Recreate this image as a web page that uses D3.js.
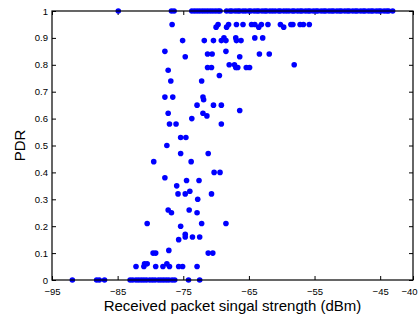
<!DOCTYPE html>
<html>
<head>
<meta charset="utf-8">
<script src="https://cdn.jsdelivr.net/npm/d3@7"></script>
<style>
  body { margin: 0; background: #fff; }
  svg { display: block; font-family: "Liberation Sans", Arial, sans-serif; }
</style>
</head>
<body>
<svg id="chart" width="419" height="322"></svg>
<script>
// tick values
const xTicks = [-95, -85, -75, -65, -55, -45, -40];
const yTicks = [0, 0.1, 0.2, 0.3, 0.4, 0.5, 0.6, 0.7, 0.8, 0.9, 1];

// links that delivered everything (PDR = 1)
const fullRssi = [-84.9, -76.8, -76.4, -73.7, -73.3, -72.9, -72.5, -72.1, -71.7, -71.3, -70.9, -70.5,
    -70.1, -69.7, -69.4, -68.4, -67.9, -67.6, -67.1, -66.7, -66.4, -65.9, -65.5, -65.0, -64.7, -64.2,
    -63.8, -63.5, -63.0, -62.6, -62.3, -61.8, -61.4, -61.0, -60.5, -60.2, -59.7, -59.3, -58.9, -58.4,
    -58.1, -57.6, -57.2, -56.9, -56.4, -56.0, -55.7, -55.2, -54.8, -54.5, -54.0, -53.6, -53.3, -52.8,
    -52.4, -52.1, -51.6, -51.2, -50.9, -50.4, -50.0, -49.7, -49.2, -48.8, -48.5, -48.0, -47.6, -47.3,
    -46.8, -46.4, -46.1, -45.6, -45.2, -44.9, -44.4, -44.0, -43.7, -43.1];

// links that delivered nothing (PDR = 0)
const zeroRssi = [-91.9, -88.2, -87.8, -87.0, -83.1, -82.7, -82.2, -81.8, -81.4, -81.0, -80.6, -80.1,
    -79.7, -79.3, -78.8, -78.4, -78.0, -77.6, -77.2, -76.7, -76.3, -74.2, -72.5];

// everything in between
const midRssi = [
    -76.7, -69.7, -68.1, -66.9, -65.9, -64.6, -64.1, -63.1, -62.1, -60.2, -58.6, -58.3, -57.2, -56.7, -55.8,
    -70.0, -68.4, -63.5, -59.7,
    -68.8, -67.0, -64.1, -62.9,
    -75.1, -71.8, -70.4, -69.2, -68.5, -66.9, -66.2,
    -77.8, -68.5,
    -71.3, -70.6, -63.4, -61.9,
    -74.7, -66.4,
    -68.0, -67.2, -58.1,
    -71.3, -70.7, -67.0, -66.7, -65.4, -64.9,
    -77.3, -69.5,
    -76.9, -72.2,
    -77.8, -76.6, -72.0, -71.9,
    -72.9, -70.4, -69.2, -66.4,
    -77.3, -72.0, -71.4, -73.7,
    -77.1, -76.1, -69.2,
    -75.4, -74.6, -77.5,
    -75.4, -71.2, -79.5, -73.8,
    -70.3, -69.4, -77.8,
    -74.5, -72.6, -76.0, -74.0,
    -75.8, -74.7, -70.7, -72.8,
    -77.3, -74.1, -76.8, -72.9,
    -80.5, -72.2, -68.5, -75.4,
    -74.7, -74.7, -73.6, -72.5, -75.7, -77.2,
    -79.6, -79.2, -71.2, -70.5,
    -80.9, -80.5, -77.5,
    -82.2, -81.0, -79.2, -78.1, -77.1, -75.7, -75.1, -72.9
];
const midPdr = [
    0.95, 0.95, 0.95, 0.95, 0.95, 0.95, 0.95, 0.95, 0.95, 0.95, 0.95, 0.95, 0.95, 0.95, 0.95,
    0.94, 0.94, 0.94, 0.94,
    0.90, 0.90, 0.90, 0.90,
    0.89, 0.89, 0.89, 0.89, 0.89, 0.89, 0.89,
    0.85, 0.85,
    0.84, 0.84, 0.84, 0.84,
    0.83, 0.83,
    0.80, 0.80, 0.80,
    0.79, 0.79, 0.79, 0.79, 0.79, 0.79,
    0.78, 0.76,
    0.74, 0.74,
    0.68, 0.68, 0.68, 0.67,
    0.65, 0.65, 0.65, 0.63,
    0.62, 0.62, 0.61, 0.60,
    0.58, 0.58, 0.58,
    0.53, 0.53, 0.50,
    0.47, 0.47, 0.44, 0.44,
    0.40, 0.40, 0.38,
    0.37, 0.37, 0.35, 0.33,
    0.32, 0.32, 0.32, 0.30,
    0.26, 0.26, 0.25, 0.25,
    0.21, 0.21, 0.21, 0.20,
    0.17, 0.16, 0.16, 0.16, 0.15, 0.11,
    0.10, 0.10, 0.10, 0.10,
    0.06, 0.06, 0.06,
    0.05, 0.05, 0.05, 0.05, 0.05, 0.05, 0.05, 0.05
];

let points = [];
for (let x of fullRssi) points.push({ x: x, y: 1 });
for (let x of zeroRssi) points.push({ x: x, y: 0 });
midRssi.forEach((x, i) => points.push({ x: x, y: midPdr[i] }));

const W = 419, H = 322;
const m = { left: 52, right: 6, top: 11, bottom: 42 };

let svg = d3.select("#chart");

let x = d3.scaleLinear().domain([-95, -40]).range([m.left, W - m.right]);
let y = d3.scaleLinear().domain([0, 1]).range([H - m.bottom, m.top]);

let fmt = d3.format("~g");

// ticks point inward, like the original
let bottom = svg.append("g").attr("transform", "translate(0," + (H - m.bottom) + ")")
    .call(d3.axisBottom(x).tickValues(xTicks).tickFormat(fmt).tickSize(-4).tickPadding(8));
svg.append("g").attr("transform", "translate(0," + m.top + ")")
    .call(d3.axisTop(x).tickValues(xTicks).tickFormat("").tickSize(-4));
svg.append("g").attr("transform", "translate(" + m.left + ",0)")
    .call(d3.axisLeft(y).tickValues(yTicks).tickFormat(fmt).tickSize(-4).tickPadding(4));
svg.append("g").attr("transform", "translate(" + (W - m.right) + ",0)")
    .call(d3.axisRight(y).tickValues(yTicks).tickFormat("").tickSize(-4));

svg.selectAll(".domain").remove();
svg.selectAll(".tick line").attr("stroke", "#000");
svg.selectAll(".tick text").attr("fill", "#000").style("font-size", "9.5px");

// last label gets pushed in so it is not cut off at the edge
bottom.selectAll(".tick text").filter(d => d === -40).attr("dx", "-4");

// points
svg.append("g")
    .selectAll("circle")
    .data(points)
    .enter()
    .append("circle")
    .attr("cx", d => x(d.x))
    .attr("cy", d => y(d.y))
    .attr("r", 2.8)
    .attr("fill", "#0000ff");

// frame
svg.append("rect")
    .attr("x", m.left).attr("y", m.top)
    .attr("width", W - m.left - m.right).attr("height", H - m.top - m.bottom)
    .attr("fill", "none").attr("stroke", "#000").attr("stroke-width", 1.2);

svg.append("text")
    .attr("x", (m.left + W - m.right) / 2).attr("y", 311)
    .attr("text-anchor", "middle")
    .style("font-size", "15px")
    .text("Received packet singal strength (dBm)");

svg.append("text")
    .attr("transform", "translate(25," + (m.top + H - m.bottom) / 2 + ") rotate(-90)")
    .attr("text-anchor", "middle")
    .style("font-size", "15px")
    .text("PDR");
</script>
</body>
</html>
